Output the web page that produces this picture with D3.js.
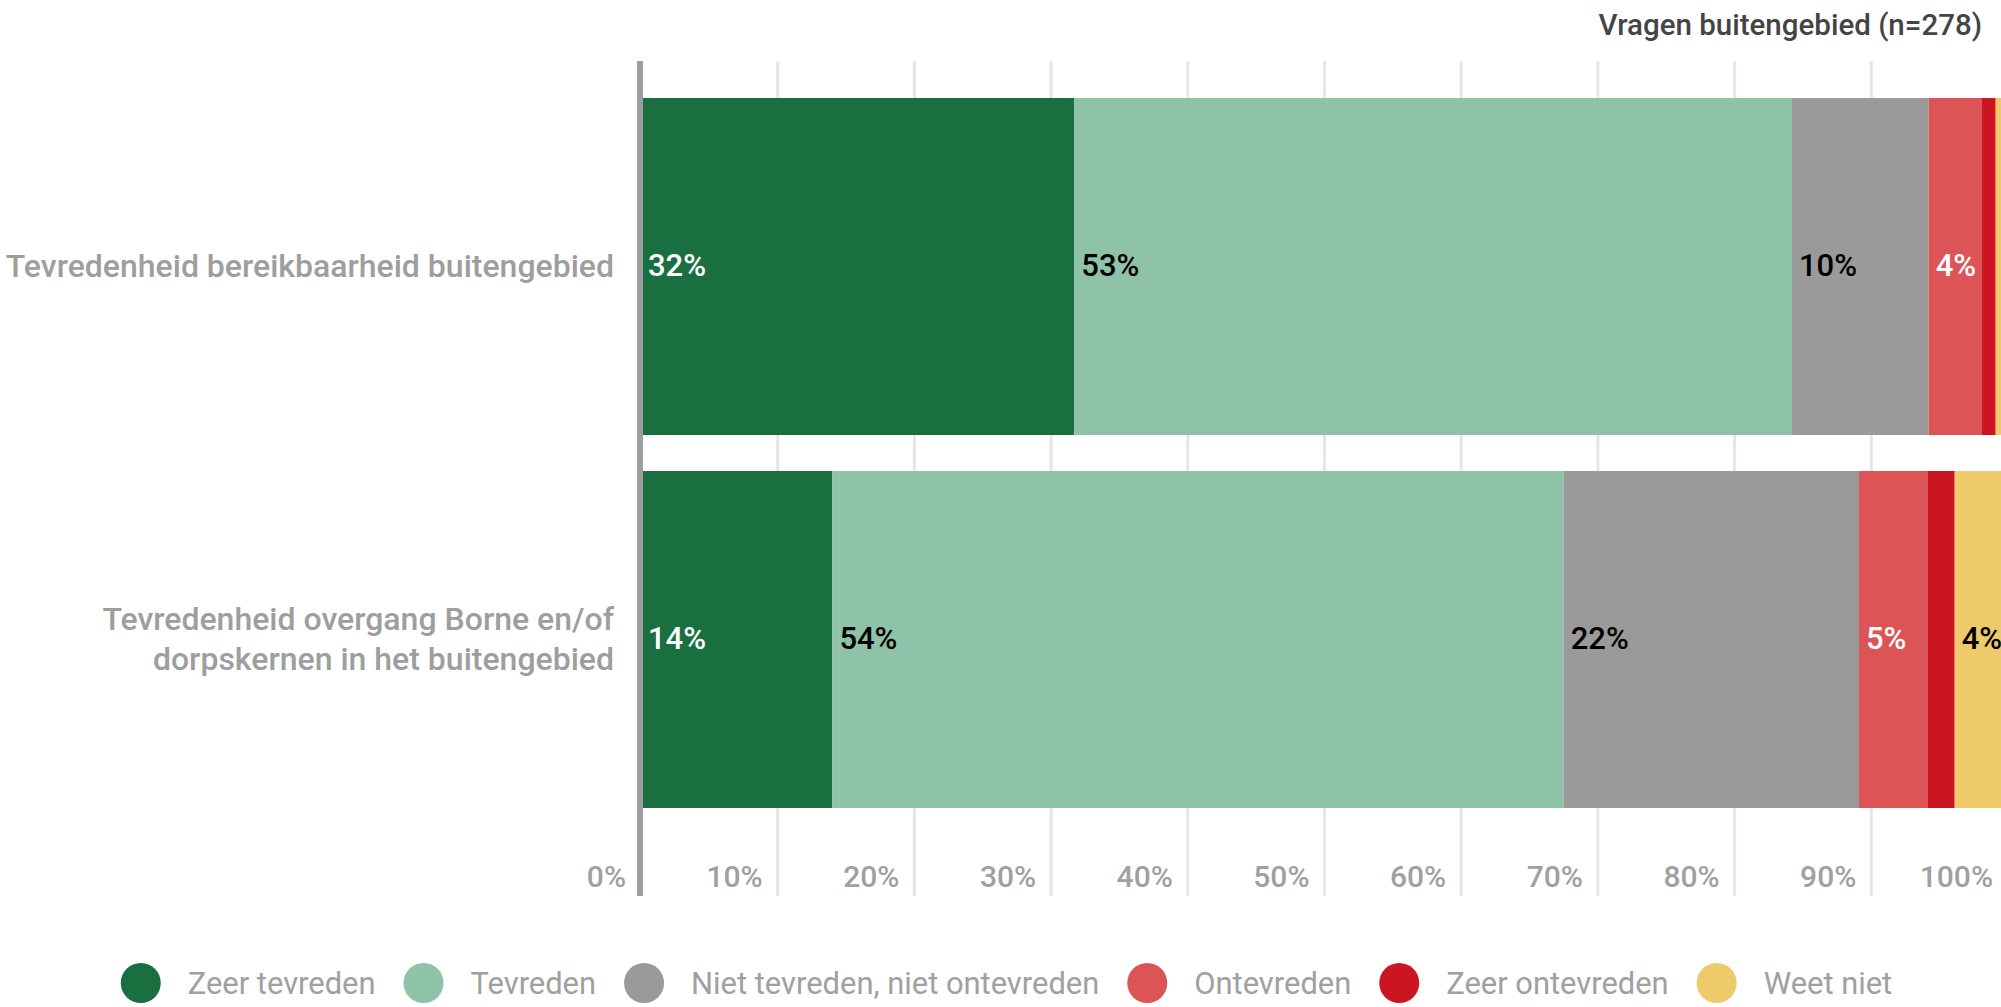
<!DOCTYPE html>
<html>
<head>
<meta charset="utf-8">
<script src="https://cdn.jsdelivr.net/npm/d3@7"></script>
<style>
html,body{margin:0;padding:0;background:#fff;overflow:hidden}
svg{display:block;font-family:Roboto, "Noto Sans", sans-serif}
</style>
</head>
<body>
<svg id="chart" width="2001" height="1007"></svg>
<script>
const title = "Vragen buitengebied (n=278)";
const categories = [
  ["Tevredenheid bereikbaarheid buitengebied"],
  ["Tevredenheid overgang Borne en/of", "dorpskernen in het buitengebied"]
];
const seriesNames = ["Zeer tevreden","Tevreden","Niet tevreden, niet ontevreden","Ontevreden","Zeer ontevreden","Weet niet"];
const seriesColors = ["#196f40","#8fc3a7","#9a9a9a","#dc5456","#cb1520","#efca6a"];
const labelColors = ["#fff","#000","#000","#fff","#fff","#000"];
const values = [
  [31.7, 52.5, 10.0, 3.9, 1.0, 0.9],
  [14.0, 53.5, 21.6, 5.0, 2.0, 3.9]
];
const tickValues = [0,10,20,30,40,50,60,70,80,90,100];

const svg = d3.select("#chart");
const x = d3.scaleLinear().domain([0,100]).range([641, 2008]);
const y = d3.scaleBand().domain(d3.range(categories.length)).range([98, 808]).paddingInner(0.0965).paddingOuter(0);

// gridlines
svg.append("g").selectAll("line").data(tickValues.slice(1)).join("line")
  .attr("x1", d=>x(d)).attr("x2", d=>x(d))
  .attr("y1", 61).attr("y2", 896)
  .attr("stroke", "#e6e6e6").attr("stroke-width", 3);

// bars
const stacked = values.map((row,i)=>{
  let acc=0;
  return row.map((v,j)=>{const s={row:i,ser:j,x0:acc,x1:acc+v,v:v}; acc+=v; return s;});
});
const segs = stacked.flat();
svg.append("g").selectAll("rect").data(segs).join("rect")
  .attr("x", d=>x(d.x0)).attr("width", d=>x(d.x1)-x(d.x0))
  .attr("y", d=>y(d.row)).attr("height", y.bandwidth())
  .attr("fill", d=>seriesColors[d.ser]);

// value labels
svg.append("g").selectAll("text").data(segs.filter(d=>d.v>=3)).join("text")
  .attr("x", d=>x(d.x0)+7)
  .attr("y", d=>y(d.row)+y.bandwidth()/2)
  .attr("dy","0.3em")
  .attr("font-size", 31).attr("font-weight",500)
  .attr("fill", d=>labelColors[d.ser])
  .text(d=>Math.round(d.v)+"%");

// axis line
svg.append("rect").attr("x",637).attr("y",61).attr("width",6).attr("height",835).attr("fill","#9e9e9e");

// tick labels
svg.append("g").selectAll("text").data(tickValues).join("text")
  .attr("x", d=>x(d)-15).attr("y", 887)
  .attr("text-anchor","end").attr("font-size",30).attr("font-weight",500).attr("fill","#a0a0a0")
  .text(d=>d+"%");

// category labels
const cat = svg.append("g").selectAll("text").data(categories).join("text")
  .attr("text-anchor","end").attr("font-size",32).attr("font-weight",500).attr("fill","#9e9e9e");
cat.each(function(lines,i){
  const cy = y(i)+y.bandwidth()/2;
  const lh = 40;
  const t = d3.select(this);
  lines.forEach((l,k)=>{
    t.append("tspan").attr("x",614)
      .attr("y", cy + (k-(lines.length-1)/2)*lh)
      .attr("dy","0.33em").text(l);
  });
});

// title
svg.append("text").attr("x",1982).attr("y",35).attr("text-anchor","end")
  .attr("font-size",29.5).attr("font-weight",500).attr("fill","#444").text(title);

// legend
const lg = svg.append("g");
const items = lg.selectAll("g").data(seriesNames).join("g");
items.append("circle").attr("r",20).attr("cy",0).attr("cx",20).attr("fill",(d,i)=>seriesColors[i]);
items.append("text").attr("x",67).attr("y",0).attr("dy","0.36em").attr("font-size",30.9).attr("fill","#a0a0a0").text(d=>d);
let pos=0;
items.each(function(){
  const w = d3.select(this).select("text").node().getComputedTextLength();
  d3.select(this).attr("transform",`translate(${pos},983)`);
  pos += 67 + w + 28;
});
const total = pos - 28;
lg.attr("transform",`translate(${(2001-total)/2 + 6},0)`);
</script>
</body>
</html>
